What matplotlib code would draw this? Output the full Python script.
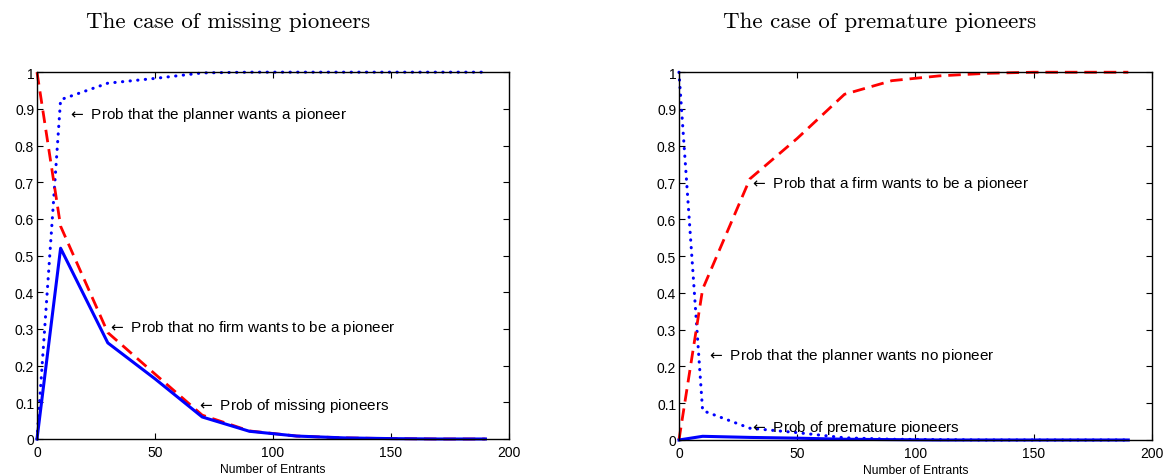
import matplotlib
matplotlib.use("Agg")
import matplotlib.pyplot as plt

# number of entrants at which the probabilities were computed
entrants = [0, 10, 30, 50, 70, 90, 110, 130, 150, 170, 190]

# missing pioneers
miss_planner = [0.0, 0.925, 0.97, 0.983, 0.998, 1.0, 1.0, 1.0, 1.0, 1.0, 1.0]
miss_nofirm = [1.0, 0.58, 0.29, 0.177, 0.065, 0.022, 0.008, 0.003, 0.001, 0.0, 0.0]
miss_prob = [0.0, 0.52, 0.262, 0.164, 0.06, 0.021, 0.008, 0.003, 0.001, 0.0, 0.0]

# premature pioneers
prem_planner = [1.0, 0.08, 0.032, 0.02, 0.006, 0.002, 0.001, 0.0, 0.0, 0.0, 0.0]
prem_firm = [0.0, 0.41, 0.71, 0.82, 0.94, 0.977, 0.99, 0.997, 1.0, 1.0, 1.0]
prem_prob = [0.0, 0.01, 0.007, 0.005, 0.002, 0.001, 0.0, 0.0, 0.0, 0.0, 0.0]

xticks = [0, 50, 100, 150, 200]
yticks = [0, 0.1, 0.2, 0.3, 0.4, 0.5, 0.6, 0.7, 0.8, 0.9, 1]
yticklabels = ["0", "0.1", "0.2", "0.3", "0.4", "0.5", "0.6", "0.7", "0.8", "0.9", "1"]

plt.rcParams["font.family"] = "Liberation Sans"
plt.rcParams["mathtext.fontset"] = "dejavusans"

fig = plt.figure(figsize=(11.67, 4.77), dpi=100)
ax1 = fig.add_axes([0.0317, 0.0776, 0.4045, 0.769])
ax2 = fig.add_axes([0.5818, 0.0755, 0.4053, 0.771])

blue = (0, 0, 1)
red = (1, 0, 0)
dots = (0, (0.1, 2.4))
dashes = (0, (4.5, 2.5))
fs = 11


def style(ax):
    ax.set_xlim(0, 200)
    ax.set_ylim(0, 1)
    ax.set_xticks(xticks)
    ax.set_xticklabels([str(v) for v in xticks])
    ax.set_yticks(yticks)
    ax.set_yticklabels(yticklabels)
    ax.tick_params(direction="in", top=True, right=True, length=4,
                   labelsize=10, width=0.8)
    ax.tick_params(axis="x", pad=4)
    ax.tick_params(axis="y", pad=2)
    for s in ax.spines.values():
        s.set_linewidth(1.0)
    ax.set_xlabel("Number of Entrants", fontsize=8.7, labelpad=3)


def curves(ax, dotted, dashed, solid):
    ax.plot(entrants, dotted, color=blue, lw=2.2, ls=dots,
            dash_capstyle="round", clip_on=False)
    ax.plot(entrants, dashed, color=red, lw=2, ls=dashes, clip_on=False)
    ax.plot(entrants, solid, color=blue, lw=2.2, clip_on=False)


curves(ax1, miss_planner, miss_nofirm, miss_prob)
ax1.text(13, 0.885, r"$\leftarrow$ Prob that the planner wants a pioneer",
         fontsize=fs, va="center")
ax1.text(30, 0.306, r"$\leftarrow$ Prob that no firm wants to be a pioneer",
         fontsize=fs, va="center")
ax1.text(68, 0.093, r"$\leftarrow$ Prob of missing pioneers",
         fontsize=fs, va="center")
style(ax1)

curves(ax2, prem_planner, prem_firm, prem_prob)
ax2.text(30, 0.70, r"$\leftarrow$ Prob that a firm wants to be a pioneer",
         fontsize=fs, va="center")
ax2.text(12, 0.232, r"$\leftarrow$ Prob that the planner wants no pioneer",
         fontsize=fs, va="center")
ax2.text(30, 0.036, r"$\leftarrow$ Prob of premature pioneers",
         fontsize=fs, va="center")
style(ax2)

fig.text(228 / 1167, 1 - 22 / 477, "The case of missing pioneers",
         family="cmr10", fontsize=16.5, ha="center", va="center")
fig.text(880 / 1167, 1 - 22 / 477, "The case of premature pioneers",
         family="cmr10", fontsize=16.5, ha="center", va="center")

fig.savefig("out.png", dpi=100)
